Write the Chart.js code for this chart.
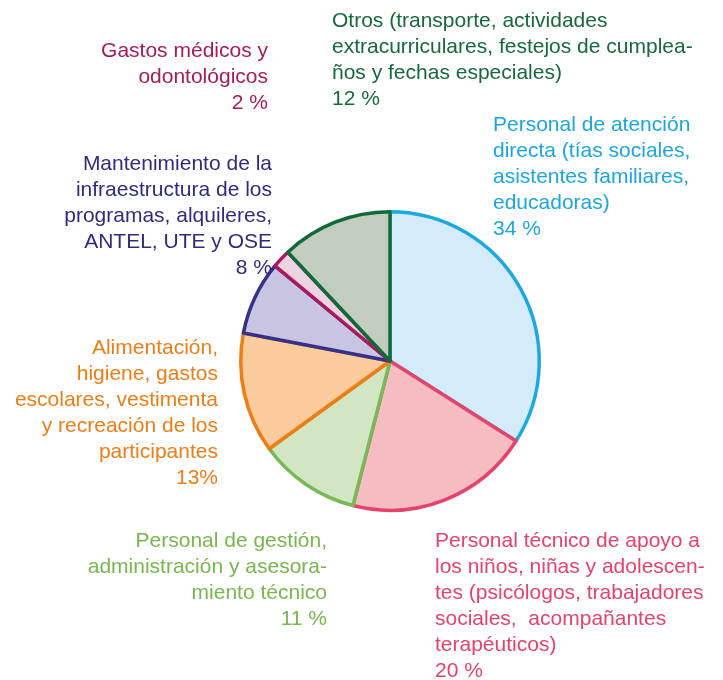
<!DOCTYPE html>
<html>
<head>
<meta charset="utf-8">
<script src="https://cdn.jsdelivr.net/npm/chart.js@4/dist/chart.umd.min.js"></script>
<style>
  html, body { margin: 0; padding: 0; background: #ffffff; }
  #wrap { position: relative; width: 723px; height: 680px; }
  #chart { position: absolute; left: 0; top: 0; }
  .lbl { position: absolute; font-family: "Liberation Sans", Arial, sans-serif; font-size: 21px; line-height: 26px; white-space: nowrap; }
</style>
</head>
<body>
<div id="wrap">
  <canvas id="chart" width="723" height="680"></canvas>
</div>
<script>
// ---- data ----
const categories = [
  ["Personal de atención", "directa (tías sociales,", "asistentes familiares,", "educadoras)"],
  ["Personal técnico de apoyo a", "los niños, niñas y adolescen-", "tes (psicólogos, trabajadores", "sociales,  acompañantes", "terapéuticos)"],
  ["Personal de gestión,", "administración y asesora-", "miento técnico"],
  ["Alimentación,", "higiene, gastos", "escolares, vestimenta", "y recreación de los", "participantes"],
  ["Mantenimiento de la", "infraestructura de los", "programas, alquileres,", "ANTEL, UTE y OSE"],
  ["Gastos médicos y", "odontológicos"],
  ["Otros (transporte, actividades", "extracurriculares, festejos de cumplea-", "ños y fechas especiales)"]
];
const values = [34, 20, 11, 13, 8, 2, 12];
const percentLabels = ["34 %", "20 %", "11 %", "13%", "8 %", "2 %", "12 %"];
const fillColors = ["#d4ebfa", "#f5bcc1", "#d2e6c3", "#facb9c", "#c8c4e2", "#ecd3df", "#c3cdbd"];
const borderColors = ["#1ca9e2", "#e5436b", "#79b859", "#ef7d15", "#35318a", "#a81a5d", "#10693a"];
const textColors = ["#1ca6e0", "#e5436b", "#78b64e", "#ef7d15", "#2f2b80", "#a51c5d", "#17693b"];

// ---- label layout (positions only) ----
const labelLayout = [
  { left: 493, top: 111, align: "left" },
  { left: 435, top: 527, align: "left" },
  { right: 396, top: 527, align: "right" },
  { right: 505, top: 334, align: "right" },
  { right: 451, top: 150, align: "right" },
  { right: 455, top: 37, align: "right" },
  { left: 332, top: 7, align: "left" }
];

const wrap = document.getElementById("wrap");
categories.forEach((lines, i) => {
  const d = document.createElement("div");
  d.className = "lbl";
  const L = labelLayout[i];
  if (L.left !== undefined) d.style.left = L.left + "px";
  if (L.right !== undefined) d.style.right = L.right + "px";
  d.style.top = L.top + "px";
  d.style.textAlign = L.align;
  d.style.color = textColors[i];
  d.innerHTML = lines.concat([percentLabels[i]]).map(s => s.replace(/ {2}/g, " &nbsp;")).join("<br>");
  wrap.appendChild(d);
});

new Chart(document.getElementById("chart"), {
  type: "pie",
  data: {
    labels: categories.map(l => l.join(" ")),
    datasets: [{
      data: values,
      backgroundColor: fillColors,
      borderColor: borderColors,
      borderWidth: 3.5,
      borderJoinStyle: "round"
    }]
  },
  options: {
    responsive: false,
    animation: false,
    layout: { padding: { left: 239, right: 182, top: 210, bottom: 168 } },
    plugins: { legend: { display: false }, tooltip: { enabled: false } }
  }
});
</script>
</body>
</html>
